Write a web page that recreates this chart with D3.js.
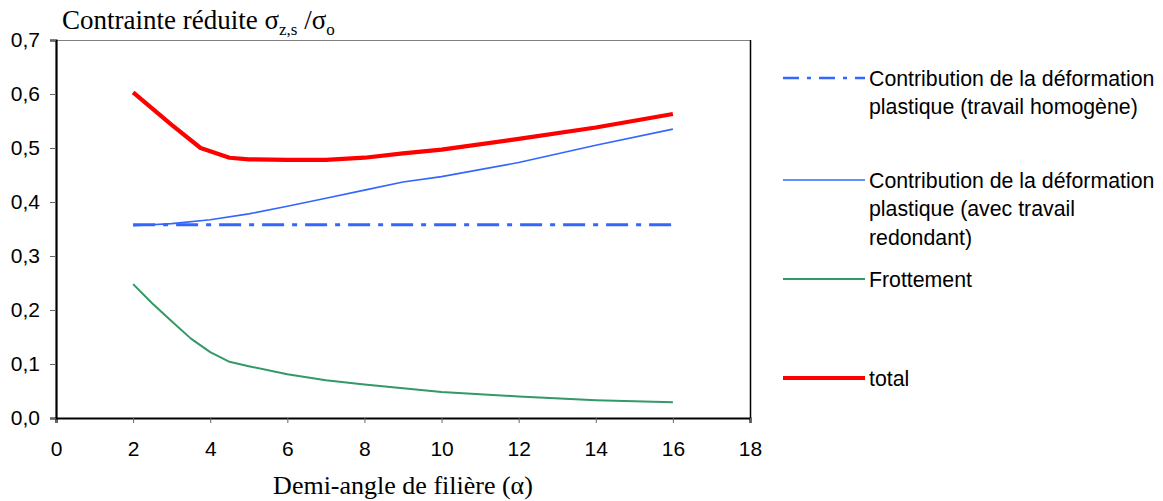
<!DOCTYPE html>
<html><head><meta charset="utf-8">
<script src="https://cdn.jsdelivr.net/npm/d3@7"></script>
<style>body{margin:0;background:#fff}svg{display:block}</style>
</head><body>
<svg id="c" width="1163" height="501"></svg>
<script>
// Data
const xTotal = [2, 3, 3.75, 4.5, 5, 6, 7, 8, 9, 10, 12, 14, 16];
const total = [0.603, 0.543, 0.500, 0.482, 0.479, 0.478, 0.478, 0.482, 0.490, 0.497, 0.517, 0.538, 0.563];
const xRedond = [2, 3, 4, 5, 6, 7, 8, 9, 10, 12, 14, 16];
const redondant = [0.356, 0.360, 0.367, 0.378, 0.392, 0.407, 0.422, 0.437, 0.447, 0.473, 0.505, 0.535];
const xHomog = [2, 16];
const homogene = [0.358, 0.358];
const xFrott = [2, 2.5, 3, 3.5, 4, 4.5, 5, 6, 7, 8, 10, 12, 14, 16];
const frottement = [0.248, 0.212, 0.179, 0.147, 0.122, 0.104, 0.096, 0.081, 0.070, 0.062, 0.048, 0.040, 0.033, 0.029];
const xTicks = [0, 2, 4, 6, 8, 10, 12, 14, 16, 18];
const yTicks = [0, 0.1, 0.2, 0.3, 0.4, 0.5, 0.6, 0.7];
const legendLabels = [
  ["Contribution de la déformation", "plastique (travail homogène)"],
  ["Contribution de la déformation", "plastique (avec travail", "redondant)"],
  ["Frottement"],
  ["total"]
];

const svg = d3.select("#c");
const L = 56, R = 750, T = 40, B = 418;
const x = d3.scaleLinear().domain([0, 18]).range([L, R]);
const y = d3.scaleLinear().domain([0, 0.7]).range([B, T]);
const fmt = d => d3.format(".1f")(d).replace(".", ",");

// frame top/right
svg.append("line").attr("x1", L).attr("x2", R).attr("y1", T + 0.5).attr("y2", T + 0.5).attr("stroke", "#808080").attr("stroke-width", 1);
svg.append("line").attr("x1", R + 0.5).attr("x2", R + 0.5).attr("y1", T).attr("y2", B).attr("stroke", "#000").attr("stroke-width", 1.5);

// axes
const ax = svg.append("g").attr("transform", `translate(0,${B})`)
  .call(d3.axisBottom(x).tickValues(xTicks).tickSize(5).tickPadding(18).tickFormat(d => d));
const ay = svg.append("g").attr("transform", `translate(${L},0)`)
  .call(d3.axisLeft(y).tickValues(yTicks).tickSize(6).tickPadding(10).tickFormat(fmt));
[ax, ay].forEach(g => {
  g.select(".domain").attr("stroke", "#000").attr("stroke-width", 2.2);
  g.selectAll(".tick line").attr("stroke", "#666");
  g.selectAll("text").attr("font-family", "Liberation Sans, Arial, sans-serif").attr("font-size", 21).attr("fill", "#000");
});

const line = d3.line().x(d => x(d[0])).y(d => y(d[1]));
const series = [
  {xs: xHomog, ys: homogene, color: "#3366FF", w: 3, dash: "22,8,5,8"},
  {xs: xRedond, ys: redondant, color: "#3366FF", w: 1.6, dash: null},
  {xs: xFrott, ys: frottement, color: "#339966", w: 2, dash: null},
  {xs: xTotal, ys: total, color: "#FF0000", w: 4.2, dash: null}
];
series.forEach(s => {
  svg.append("path").datum(d3.zip(s.xs, s.ys)).attr("d", line)
    .attr("fill", "none").attr("stroke", s.color).attr("stroke-width", s.w)
    .attr("stroke-linejoin", "round")
    .attr("stroke-dasharray", s.dash);
});

// legend
const legY = [78, 180, 279, 378];
series.forEach((s, i) => {
  svg.append("line").attr("x1", 783).attr("x2", 865).attr("y1", legY[i]).attr("y2", legY[i])
    .attr("stroke", s.color).attr("stroke-width", s.w === 3 ? 2.4 : s.w).attr("stroke-dasharray", s.dash ? "16,8,4,8" : null);
  const t = svg.append("text").attr("x", 869).attr("y", legY[i] + 7.5)
    .attr("font-family", "Liberation Sans, Arial, sans-serif").attr("font-size", 21.3).attr("fill", "#000");
  legendLabels[i].forEach((ln, j) => t.append("tspan").attr("x", 869).attr("dy", j ? 28.5 : 0).text(ln));
});

// titles
const tt = svg.append("text").attr("x", 62).attr("y", 29)
  .attr("font-family", "Liberation Serif, Times New Roman, serif").attr("font-size", 27).attr("fill", "#000");
tt.append("tspan").text("Contrainte réduite σ");
tt.append("tspan").attr("font-size", 17).attr("dy", 6).text("z,s");
tt.append("tspan").attr("dy", -6).text(" /σ");
tt.append("tspan").attr("font-size", 17).attr("dy", 6).text("o");

svg.append("text").attr("x", 403).attr("y", 494).attr("text-anchor", "middle")
  .attr("font-family", "Liberation Serif, Times New Roman, serif").attr("font-size", 26).attr("fill", "#000")
  .text("Demi-angle de filière (α)");
</script>
</body></html>
